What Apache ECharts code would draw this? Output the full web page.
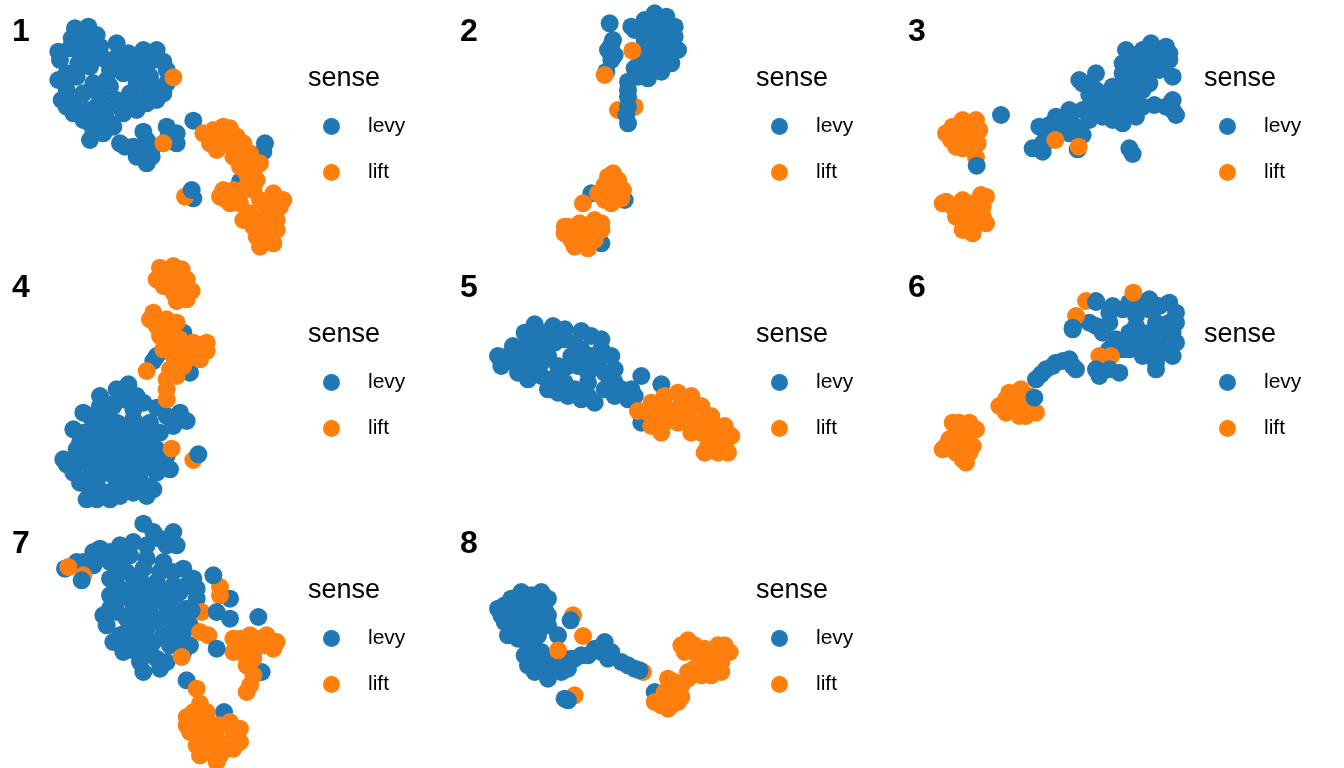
<!DOCTYPE html>
<html>
<head>
<meta charset="utf-8">
<script src="https://cdn.jsdelivr.net/npm/echarts@6/dist/echarts.min.js"></script>
<style>
  html, body { margin: 0; padding: 0; background: #fff; }
  #chart { width: 1344px; height: 768px; }
</style>
</head>
<body>
<div id="chart"></div>
<script>
// panel coordinates (units are arbitrary, 0..900 wide, 0..768 tall, y grows downward)
const panelNames = ['1', '2', '3', '4', '5', '6', '7', '8'];
const legendTitle = 'sense';
const categories = ['levy', 'lift'];

// panel 1
const levy1 = [[225,85],[265,80],[290,105],[215,115],[175,155],[210,145],[245,165],[310,175],[355,165],[385,160],[430,150],[470,150],[490,185],[440,200],[400,200],[330,210],[270,200],[235,190],[175,240],[200,270],[185,300],[220,310],[250,280],[280,250],[300,290],[320,240],[410,250],[450,270],[490,280],[470,300],[390,280],[250,360],[280,400],[300,395],[330,370],[370,340],[410,330],[375,440],[410,470],[440,490],[455,470],[440,420],[430,395],[500,380],[530,400],[530,430],[505,410],[580,362],[795,430],[790,455],[720,545],[580,595],
  [250,110],[280,140],[300,140],[340,190],[370,190],[420,180],[460,180],[450,230],[410,220],[370,220],[330,260],[290,320],[320,330],[260,330],[220,340],[200,320],[350,300],[380,310],[420,300],[440,310],[300,350],[340,380],[270,370],[460,440],[420,450],[400,440],[360,430],[180,180],[230,230],[200,220],[270,170],[460,260],[500,250],[500,210],[260,130],[240,140],[310,400],[270,420],[350,130],[390,180]];
const lift1 = [[520,232],[490,430],[555,590],[640,390],[690,385],[630,430],[680,430],[730,430],[750,460],[700,470],[760,500],[740,520],[770,540],[670,570],[680,600],[720,580],[760,570],[820,580],[840,620],[800,620],[750,640],[760,680],[800,690],[830,660],[790,720],[780,740],[820,730],
  [610,400],[660,410],[710,410],[650,450],[700,440],[720,500],[780,490],[760,520],[740,560],[700,570],[660,590],[690,610],[720,610],[780,600],[800,650],[850,600],[770,710],[810,710],[780,660],[830,690],[730,660],[740,470],[670,380]];
const levyTop1 = [[575,570]];

// panel 2
const levy2 = [[485,70],[495,120],[490,135],[480,150],[500,165],[490,180],[475,215],[620,40],[655,50],[590,60],[560,90],[600,90],[650,90],[680,80],[620,120],[660,130],[600,150],[650,170],[670,190],[580,190],[610,210],[640,215],[600,235],[560,205],
  [630,70],[590,120],[630,150],[680,110],[690,150],[570,160],[620,180],[640,100],[600,200],[570,230],[620,60],[550,80],[430,580],[530,600],[460,730]];
const lift2 = [[470,225],[553,152],[510,330],[560,320],[495,520],[470,555],[500,575],[470,600],[520,595],[490,610],[405,610],[480,530],[510,540],[450,580],[490,590],[525,570],
  [360,680],[395,670],[430,680],[460,690],[370,720],[410,725],[440,720],[350,700],[390,700],[420,700],[460,670],[380,740],[420,745],[350,680],[440,660]];
const levyTop2 = [[540,245],[540,270],[540,290],[540,320],[535,345],[540,370]];

// panel 3
const levy3 = [[315,345],[410,445],[440,455],[460,375],[480,350],[520,330],[560,330],[500,380],[450,400],[540,380],[560,405],[475,415],[545,448],[590,340],[620,330],[660,320],[650,360],[690,350],[680,300],[720,310],[700,270],[650,260],[680,220],[720,240],[710,180],[690,150],[740,150],[765,130],[810,140],[820,180],[770,190],[750,230],[790,210],[830,230],[560,250],[600,220],[600,270],[580,285],[775,315],[830,330],[840,345],[700,445],[710,462],
  [630,280],[660,290],[700,330],[720,280],[740,270],[680,250],[700,200],[740,200],[760,170],[790,170],[800,190],[820,160],[760,250],[660,340],[620,350],[580,360],[520,360],[490,360],[430,380],[440,430],[460,420],[520,400],[580,250],[550,240],[590,310],[630,310],[680,370],[720,350],[740,320],[810,320],[830,300],[680,190]];
const lift3 = [[170,380],[215,370],[250,390],[165,420],[210,420],[245,430],[200,445],[240,472],[190,400],[230,400],[150,400],[180,440],[220,440],[200,360],[240,360],
  [150,605],[200,600],[255,585],[260,620],[200,640],[250,650],[210,680],[270,670],[225,690],[170,620],[230,610],[230,640],[180,650],[230,660],[270,590],[260,650],[200,690],[230,700],[140,610],[478,420],[548,440]];
const levyTop3 = [[242,497]];

// panel 4
const levy4 = [[470,300],[550,230],[570,350],[460,315],[385,385],[300,420],[370,430],[430,440],[470,455],[540,470],[560,495],[520,510],[270,480],[320,470],[250,530],[300,520],[350,500],[400,490],[450,500],[480,530],[230,580],[280,570],[330,560],[380,550],[430,560],[470,580],[200,625],[250,620],[300,610],[350,610],[400,600],[450,610],[490,620],[220,650],[270,660],[320,650],[370,650],[420,650],[470,650],[270,700],[320,710],[380,690],[440,690],[460,700],[260,730],[330,730],
  [280,500],[330,500],[370,510],[420,510],[460,530],[240,560],[290,540],[340,530],[390,530],[440,540],[260,590],[310,590],[360,580],[410,580],[460,590],[230,610],[280,640],[330,630],[380,630],[430,630],[480,640],[240,680],[290,680],[350,680],[410,670],[440,720],[290,730],[360,720],[400,710],[340,450],[410,420],[500,480],[190,610],[220,520],[250,470],[350,400],[400,460],[300,450],[510,640],[500,600]];
const lift4 = [[500,45],[545,40],[490,90],[540,90],[575,105],[530,135],[560,130],[520,60],[470,70],[520,110],[560,70],[550,120],[480,35],[520,30],
  [460,170],[470,210],[530,200],[480,240],[540,250],[600,270],[620,285],[600,310],[560,310],[520,300],[510,340],[530,360],[500,400],[500,430],[500,220],[510,260],[560,280],[580,260],[490,280],[550,330],[590,290],[620,260],[500,370],[530,320],[450,190],[500,190],
  [440,345],[515,578],[580,612]];
const levyTop4 = [[322,445],[595,595]];

// panel 5
const levy5 = [[150,300],[160,330],[195,270],[230,230],[260,205],[315,210],[220,300],[210,350],[240,370],[270,260],[300,300],[300,400],[330,410],[340,350],[370,300],[400,225],[430,240],[400,280],[460,280],[490,300],[500,340],[450,330],[420,380],[400,430],[440,440],[380,400],[470,400],[500,420],[540,430],[550,400],[580,360],[560,420],[580,500],[640,385],
  [180,300],[200,320],[250,330],[280,320],[330,330],[360,330],[390,330],[420,320],[450,300],[320,260],[350,250],[300,250],[240,260],[260,300],[280,360],[310,370],[350,380],[420,350],[470,350],[500,380],[420,420],[360,420],[280,230],[350,220],[430,300],[520,400],[380,260],[460,250]];
const lift5 = [[570,465],[610,440],[650,420],[690,410],[730,420],[760,450],[630,480],[680,470],[720,480],[640,530],[730,530],[790,520],[830,510],[780,570],[830,570],[810,590],[760,500],
  [600,470],[650,450],[700,440],[740,450],[790,480],[820,540],[850,540],[760,530],[690,500],[650,500],[610,510],[800,560],[770,590],[840,590]];
const levyTop5 = [];

// panel 6
const levy6 = [[530,220],[600,135],[600,210],[640,200],[680,160],[700,230],[760,130],[820,140],[840,170],[720,180],[780,200],[830,230],[840,260],[790,250],[740,250],[700,280],[740,300],[780,320],[800,290],[660,250],[640,280],[420,370],[450,340],[480,320],[520,310],[540,340],
  [720,210],[760,160],[790,150],[760,230],[800,230],[820,200],[840,200],[720,270],[760,280],[790,280],[820,290],[680,280],[700,250],[740,140],[640,170],[620,230],[580,200],[650,150],[700,140],[830,300],[780,340],[435,355],[500,315],[530,330],[470,330]];
const lift6 = [[170,500],[220,500],[150,570],[200,550],[230,570],[200,610],[210,620],[180,530],[210,530],[160,550],[240,520],[180,590],[220,590],[140,580],[190,500],
  [330,430],[375,400],[330,470],[370,480],[420,470],[390,450],[350,430],[350,460],[400,420],[390,480],[340,410],[310,450],
  [610,300],[645,300],[570,135],[540,180],[712,110]];
const levyTop6 = [[600,340],[640,340],[670,350],[610,360],[415,425],[530,215],[600,138]];

// panel 7
const levy7 = [[430,35],[520,60],[530,100],[480,80],[400,90],[360,100],[300,110],[250,150],[230,150],[195,170],[330,150],[390,130],[440,140],[490,150],[550,170],[580,200],[590,230],[330,200],[380,180],[420,200],[470,210],[520,220],[330,250],[380,240],[430,250],[480,260],[520,270],[560,290],[310,310],[350,300],[400,290],[450,300],[500,310],[540,320],[570,340],[320,340],[360,370],[400,340],[440,350],[490,370],[530,380],[570,400],[340,390],[390,400],[420,450],[470,440],[500,450],[430,480],
  [460,60],[500,100],[440,100],[330,120],[280,120],[360,140],[430,170],[480,180],[520,180],[360,170],[350,220],[400,220],[450,230],[500,240],[540,240],[350,270],[400,270],[450,280],[500,280],[540,290],[330,290],[380,320],[430,320],[470,330],[520,340],[550,360],[380,360],[420,380],[460,390],[510,400],[550,420],[370,420],[450,420],[480,470],[410,420],[300,140],[280,160],[560,220],[590,260],
  [690,260],[560,505],[785,480],[672,600]];
const lift7 = [[205,165],[250,190],[660,225],[660,250],[605,300],[625,370],[600,360],[545,435],[590,530],
  [700,380],[750,370],[800,370],[720,420],[780,400],[820,410],[740,460],[760,490],[740,540],[720,380],[770,380],[740,400],[800,400],[760,420],[700,420],[830,390],[760,440],[750,520],
  [600,575],[560,615],[620,620],[660,640],[720,650],[570,660],[610,680],[660,690],[700,710],[620,720],[660,730],[580,600],[600,640],[640,640],[690,630],[700,660],[640,660],[590,700],[640,700],[680,710],[720,690],[650,750],[600,730],[560,640],[620,600]];
const levyTop7 = [[245,205],[640,190],[575,295],[650,300],[690,320],[650,410],[775,315]];

// panel 8
const levy8 = [[150,290],[190,260],[230,260],[280,240],[290,290],[170,330],[210,320],[260,310],[300,310],[180,370],[230,370],[270,370],[330,370],[240,400],[240,460],[290,470],[300,500],[260,480],[300,440],[360,470],[350,440],[400,430],[440,410],[470,390],[490,420],[520,450],[560,470],[620,540],
  [170,280],[200,290],[240,290],[270,280],[190,310],[230,340],[270,340],[200,350],[160,310],[300,340],[220,240],[250,250],[300,260],[210,380],[250,390],[280,420],[230,430],[270,450],[320,450],[330,430],[380,440],[420,430],[460,420],[480,440],[540,460],[340,480],[370,440]];
const lift8 = [[375,310],[330,415],[380,550],[585,480],[405,372],
  [720,385],[710,420],[770,410],[810,400],[845,420],[820,450],[760,460],[790,490],[720,480],[680,510],[660,500],[690,540],[660,560],[700,555],[640,580],[670,580],
  [740,400],[790,430],[750,430],[780,450],[820,430],[820,480],[760,490],[740,470],[700,400],[830,400],[680,550],[650,540],[700,520],[720,500],[620,570],[690,570],[660,590]];
const levyTop8 = [[368,325],[360,565],[350,560],[575,475]];

const levyData = [levy1, levy2, levy3, levy4, levy5, levy6, levy7, levy8];
const liftData = [lift1, lift2, lift3, lift4, lift5, lift6, lift7, lift8];
const levyTopData = [levyTop1, levyTop2, levyTop3, levyTop4, levyTop5, levyTop6, levyTop7, levyTop8];

const BLUE = '#1f77b4';
const ORANGE = '#ff7f0e';
const FONT = 'Liberation Sans, Arial, sans-serif';
const PW = 448, PH = 256;   // panel size in px

let myChart = echarts.init(document.getElementById('chart'), null, { renderer: 'canvas' });

let grids = [], xAxes = [], yAxes = [], series = [], titles = [], legends = [];
panelNames.forEach((name, i) => {
  let col = i % 3, row = Math.floor(i / 3);
  let left = col * PW, top = row * PH;
  grids.push({ left: left, top: top, width: PW, height: PH });
  xAxes.push({ gridIndex: i, type: 'value', min: 0, max: 1344, show: false });
  yAxes.push({ gridIndex: i, type: 'value', min: 0, max: 768, inverse: true, show: false });

  const mk = (sName, color, data) => ({
    name: sName, type: 'scatter', xAxisIndex: i, yAxisIndex: i,
    symbol: 'circle', symbolSize: 18, data: data,
    itemStyle: { color: color, opacity: 1 },
    emphasis: { disabled: true }, silent: true
  });
  series.push(mk(categories[0], BLUE, levyData[i]));
  series.push(mk(categories[1], ORANGE, liftData[i]));
  series.push(mk(categories[0], BLUE, levyTopData[i]));

  // panel tag
  titles.push({ text: name, left: left + 7, top: top + 11,
    textStyle: { fontFamily: FONT, fontSize: 32, fontWeight: 'bold', color: '#000' } });
  // legend title
  titles.push({ text: legendTitle, left: left + 303, top: top + 60,
    textStyle: { fontFamily: FONT, fontSize: 27, fontWeight: 'normal', color: '#000' } });
  legends.push({
    data: categories, orient: 'vertical', left: left + 318, top: top + 111,
    icon: 'circle', itemWidth: 17, itemHeight: 17, itemGap: 25,
    selectedMode: false,
    textStyle: { fontFamily: FONT, fontSize: 21, color: '#000', padding: [0, 0, 0, 23] }
  });
});

let option = {
  animation: false,
  backgroundColor: '#fff',
  title: titles,
  legend: legends,
  grid: grids,
  xAxis: xAxes,
  yAxis: yAxes,
  series: series
};

if (option && typeof option === 'object') {
  myChart.setOption(option);
}
</script>
</body>
</html>
